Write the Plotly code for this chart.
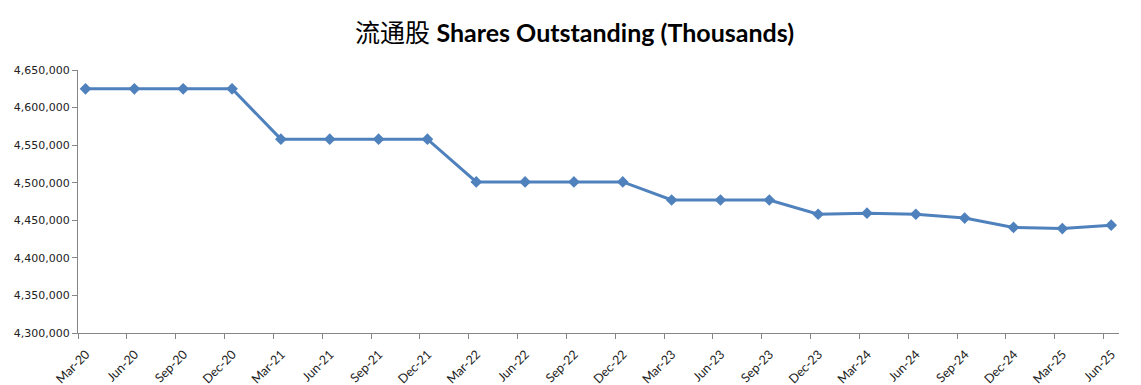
import plotly.graph_objects as go

quarters = ["Mar-20", "Jun-20", "Sep-20", "Dec-20", "Mar-21", "Jun-21", "Sep-21", "Dec-21",
            "Mar-22", "Jun-22", "Sep-22", "Dec-22", "Mar-23", "Jun-23", "Sep-23", "Dec-23",
            "Mar-24", "Jun-24", "Sep-24", "Dec-24", "Mar-25", "Jun-25"]
shares = [4625000, 4625000, 4625000, 4625000, 4558000, 4558000, 4558000, 4558000,
          4501000, 4501000, 4501000, 4501000, 4477000, 4477000, 4477000, 4458000,
          4459500, 4458000, 4453000, 4440500, 4439000, 4443500]

x_pos = list(range(len(quarters)))
tick_pos = [i - 0.154 for i in x_pos]

fig = go.Figure()
fig.add_trace(go.Scatter(
    x=x_pos, y=shares, mode="lines+markers",
    line=dict(color="#4F81BD", width=3),
    marker=dict(symbol="diamond", size=9, color="#4F81BD"),
    hoverinfo="y",
))

# page body has an 8px default margin, so the figure is sized to fit the window
fig.update_layout(
    width=1133, height=377,
    margin=dict(l=70, r=22, t=62, b=52),
    paper_bgcolor="white", plot_bgcolor="white",
    showlegend=False,
    title=dict(
        text="<span style='font-family:\"Noto Sans CJK SC\";font-weight:normal'>流通股</span> <b>Shares Outstanding (Thousands)</b>",
        x=0.5, xanchor="center", y=0.934, yanchor="middle",
        font=dict(family="Lato", size=25, color="#000000"),
    ),
    xaxis=dict(
        range=[-0.154, 21.16], tickvals=tick_pos, ticktext=quarters,
        tickangle=-45, showgrid=False, zeroline=False, automargin=False,
        showline=True, linecolor="#868686", linewidth=1.2,
        ticks="outside", ticklen=5, tickcolor="#868686",
        ticklabelshift=8, ticklabelstandoff=3,
        tickfont=dict(family="Lato", size=12.5, color="#222222"),
    ),
    yaxis=dict(
        range=[4300000, 4650000], dtick=50000, tickformat=",",
        showgrid=False, zeroline=False, automargin=False,
        showline=True, linecolor="#868686", linewidth=1.2,
        ticks="outside", ticklen=5, tickcolor="#868686",
        tickfont=dict(family="DejaVu Sans", size=11, color="#222222"),
    ),
)

fig.write_html("out.html")
